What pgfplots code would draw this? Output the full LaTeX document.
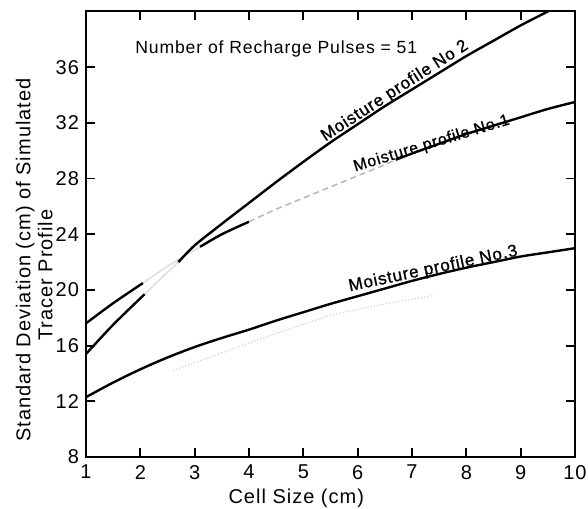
\documentclass[border=0pt]{standalone}
\usepackage{fontspec}
\setmainfont{Liberation Sans}
\newfontfamily\lt[LetterSpace=5]{Liberation Sans}
\newfontfamily\ltb[LetterSpace=5,FakeBold=1]{Liberation Sans}
\usepackage{pgfplots}
\pgfplotsset{compat=1.18}
\begin{document}
\begin{tikzpicture}
\begin{axis}[
  scale only axis, width=244.5pt, height=222.75pt,
  xmin=1, xmax=10, ymin=8, ymax=40,
  xtick={1,...,10}, ytick={8,12,...,36},
  tick align=inside, major tick length=4.5pt,
  axis line style={line width=1pt},
  major tick style={line width=0.9pt, black},
  /pgf/number format/assume math mode=true,
  ticklabel style={font=\lt\fontsize{10}{12}\selectfont},
  xticklabel style={yshift=-0.5pt},
  xlabel={Cell Size (cm)},
  xlabel style={at={(rel axis cs:0.43,-0.092)}, anchor=center, font=\lt\fontsize{10}{12}\selectfont},
  ylabel={Standard Deviation (cm) of Simulated\\Tracer Profile\hspace*{15pt}},
  ylabel style={at={(rel axis cs:-0.106,0.442)}, anchor=center, align=center, font=\lt\fontsize{10}{11}\selectfont},
  clip=true,
]
% faint ghost line (scan bleed-through)
\addplot[densely dotted, gray!35, line width=0.6pt] coordinates {(2.6,14.2) (4,16.2) (5.5,18.2) (6.5,19.0) (7.4,19.6)};
% Moisture profile No 1
\addplot[black, line width=1.2pt, smooth] coordinates {(1,17.6) (1.5,19.05) (2.05,20.5)};
\addplot[gray!25, line width=0.8pt, smooth] coordinates {(2.05,20.5) (2.5,21.7) (3.1,23.1)};
\addplot[black, line width=1.2pt, smooth] coordinates {(3.1,23.1) (3.5,24.0) (4,24.9)};
\addplot[gray!55, densely dashed, line width=0.8pt, smooth] coordinates {(4,24.9) (4.5,25.8) (5,26.6) (5.5,27.4) (6,28.2) (6.5,29.0) (6.7,29.35)};
\addplot[black, line width=1.2pt, smooth] coordinates {(6.7,29.35) (7,29.8) (7.5,30.5) (8,31.2) (8.5,31.8) (9,32.4) (9.5,33.0) (10,33.5)};
% Moisture profile No 2
\addplot[black, line width=1.2pt, smooth] coordinates {(1,15.4) (1.5,17.5) (2.08,19.7)};
\addplot[gray!25, line width=0.8pt, smooth] coordinates {(2.08,19.7) (2.4,20.9) (2.7,22.0)};
\addplot[black, line width=1.2pt, smooth] coordinates {(2.7,22.0) (3,23.2) (3.5,24.75) (4,26.25) (4.5,27.75) (5,29.2) (5.5,30.6) (6,31.9) (6.5,33.2) (7,34.4) (7.5,35.6) (8,36.8) (8.5,37.9) (9,39.0) (9.5,40.0) (9.7,40.4)};
% Moisture profile No 3
\addplot[black, line width=1.2pt, smooth] coordinates {(1,12.3) (1.5,13.35) (2,14.3) (2.5,15.15) (3,15.9) (3.5,16.55) (4,17.15) (4.5,17.8) (5,18.4) (5.5,19.0) (6,19.55) (6.5,20.1) (7,20.65) (7.5,21.15) (8,21.6) (8.5,22.0) (9,22.4) (9.5,22.7) (10,23.0)};
\node[anchor=base west, inner sep=0pt, font=\lt\fontsize{8.8}{10}\selectfont] at (axis cs:1.9,36.95) {Number of Recharge Pulses = 51};
\node[anchor=base west, inner sep=0pt, rotate=33, font=\ltb\fontsize{8.5}{10}\selectfont] at (axis cs:5.4,30.65) {Moisture profile No 2};
\node[anchor=base west, inner sep=0pt, rotate=17, font=\ltb\fontsize{8}{10}\selectfont] at (axis cs:5.95,28.5) {Moisture profile No.1};
\node[anchor=base west, inner sep=0pt, rotate=12, font=\ltb\fontsize{8.5}{10}\selectfont] at (axis cs:5.85,19.9) {Moisture profile No.3};
\coordinate (BL) at (rel axis cs:0,0);
\coordinate (TR) at (rel axis cs:1,1);
\end{axis}
\path (BL) ++(-43pt,-25.5pt) coordinate (A);
\path (TR) ++(6.5pt,5.75pt) coordinate (B);
\pgfresetboundingbox
\path[use as bounding box] (A) rectangle (B);
\end{tikzpicture}
\end{document}
